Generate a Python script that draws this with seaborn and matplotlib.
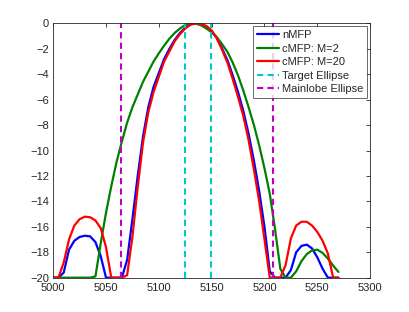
import matplotlib
matplotlib.use('Agg')
import matplotlib.pyplot as plt
import seaborn as sns
import numpy as np

sns.set_style("white")
plt.rcParams['font.family'] = ['Liberation Sans', 'DejaVu Sans']

# range axis (step 5) and beam power in dB, floored at -20
x = np.arange(5000, 5271, 5)

nmfp = [-20, -20, -19.6, -17.8, -17.1, -16.8, -16.7, -16.75, -17.2, -18.3,
        -20, -20, -20, -20, -18.6, -15.4, -12.0, -8.9, -6.6, -5.0,
        -3.9, -2.8, -2.0, -1.3, -0.75, -0.35, -0.08, 0, -0.05, -0.25,
        -0.6, -1.15, -2.0, -2.9, -4.1, -5.4, -6.9, -8.7, -10.8, -13.2,
        -16.0, -19.5, -20, -20, -20, -19.4, -18.0, -17.5, -17.4, -17.7,
        -18.4, -19.3, -20, -20, -20]

cmfp_m2 = [-20, -20, -20, -20, -20, -20, -20, -20, -19.9, -17.3,
           -14.9, -12.8, -10.9, -9.3, -7.8, -6.6, -5.6, -4.6, -3.8, -3.0,
           -2.35, -1.75, -1.2, -0.75, -0.4, -0.13, -0.01, -0.02, -0.15, -0.4,
           -0.7, -1.1, -1.65, -2.25, -3.1, -4.1, -5.3, -6.6, -8.0, -9.6,
           -11.4, -13.4, -16.2, -19.3, -20, -20, -19.5, -18.7, -18.15, -17.85,
           -17.8, -18.05, -18.5, -19.05, -19.55]

cmfp_m20 = [-20, -20, -18.8, -17.0, -15.9, -15.4, -15.2, -15.25, -15.5, -16.1,
            -17.6, -20, -20, -20, -19.8, -16.8, -12.9, -9.4, -7.0, -5.4,
            -4.2, -3.0, -2.2, -1.4, -0.85, -0.4, -0.1, 0, -0.05, -0.2,
            -0.55, -1.2, -2.1, -3.1, -4.4, -5.8, -7.3, -9.2, -11.5, -14.0,
            -17.0, -20, -20, -20, -19.0, -16.9, -15.9, -15.6, -15.6, -15.9,
            -16.4, -17.1, -18.1, -20, -20]

target_ellipse = [5125, 5149]
mainlobe_ellipse = [5064, 5208]

fig = plt.figure(figsize=(4.09, 3.12), dpi=100)
ax = fig.add_axes([0.13, 0.11, 0.775, 0.815])

sns.lineplot(x=x, y=nmfp, color='#0000ff', lw=1.6, label='nMFP', ax=ax)
sns.lineplot(x=x, y=cmfp_m2, color='#008000', lw=1.6, label='cMFP: M=2', ax=ax)
sns.lineplot(x=x, y=cmfp_m20, color='#ff0000', lw=1.6, label='cMFP: M=20', ax=ax)

for i, xv in enumerate(target_ellipse):
    ax.axvline(xv, color='#00c8c8', lw=1.5, ls=(0, (3, 2)),
               label='Target Ellipse' if i == 0 else None)
for i, xv in enumerate(mainlobe_ellipse):
    ax.axvline(xv, color='#bf00bf', lw=1.5, ls=(0, (3, 2)),
               label='Mainlobe Ellipse' if i == 0 else None)

ax.set_xlim(5000, 5300)
ax.set_ylim(-20, 0)
ax.set_xticks(np.arange(5000, 5301, 50))
ax.set_yticks(np.arange(-20, 1, 2))
ax.tick_params(direction='in', length=3, width=0.6, top=True, right=True,
               labelsize=8, colors='#262626')
ax.tick_params(axis='x', pad=4)
ax.tick_params(axis='y', pad=3)
for s in ax.spines.values():
    s.set_color('#262626')
    s.set_linewidth(0.6)

leg = ax.legend(loc='upper right', fontsize=8, frameon=True, fancybox=False,
                borderaxespad=0.25, handlelength=2.0, handletextpad=0.25,
                labelspacing=0.32, borderpad=0.35)
leg.get_frame().set_edgecolor('#262626')
leg.get_frame().set_linewidth(0.6)

plt.savefig('out.png', dpi=100)
